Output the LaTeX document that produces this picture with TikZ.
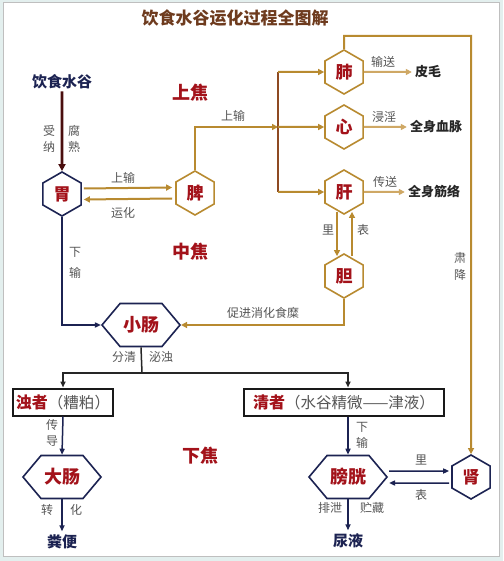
\documentclass[tikz,border=0pt]{standalone}
\usepackage{fontspec}
\setmainfont{Noto Sans CJK SC}
\usetikzlibrary{shapes.geometric,shapes.symbols,arrows.meta,calc}
\definecolor{gold}{HTML}{B88A30}
\definecolor{lgold}{HTML}{CFA865}
\definecolor{dgold}{HTML}{8E4A22}
\definecolor{navy}{HTML}{1C2352}
\definecolor{orgred}{HTML}{A3121A}
\definecolor{maroon}{HTML}{4A0E0E}
\definecolor{titlec}{HTML}{6E3B1E}
\definecolor{lbl}{HTML}{555555}
\definecolor{bgc}{HTML}{E3EFEE}
\begin{document}
\begin{tikzpicture}[x=1pt,y=-1pt,
  hexg/.style={regular polygon,regular polygon sides=6,shape border rotate=90,minimum size=44pt,inner sep=0pt,line width=1.6pt,draw=gold,fill=white,text=orgred,font=\fontsize{17}{17}\selectfont\bfseries},
  hexn/.style={hexg,draw=navy},
  hexw/.style={signal,signal to=west and east,signal pointer angle=100,minimum width=78pt,minimum height=43pt,inner sep=0pt,line width=1.6pt,draw=navy,fill=white,text=orgred,font=\fontsize{18}{18}\selectfont\bfseries},
  lab/.style={text=lbl,font=\fontsize{12}{12}\selectfont,inner sep=0pt},
  zone/.style={text=orgred,font=\fontsize{18}{18}\selectfont\bfseries},
  tgt/.style={text=black!85,font=\fontsize{13}{13}\selectfont\bfseries,inner sep=3pt},
  navyt/.style={text=navy,font=\fontsize{15}{15}\selectfont\bfseries},
  box/.style={draw=black!90,line width=2pt,fill=white,minimum height=27pt,inner sep=2pt},
  ga/.style={draw=gold,line width=2pt,-{Triangle[length=6pt,width=6pt]}},
  gl/.style={draw=gold,line width=2pt},
  la/.style={draw=lgold,line width=2pt,-{Triangle[length=6pt,width=6pt]}},
  na/.style={draw=navy,line width=1.5pt,-{Triangle[length=6pt,width=5pt]}},
  nl/.style={draw=navy,line width=1.5pt}]
\useasboundingbox (0,0) rectangle (503,561);
\fill[bgc] (0,0) rectangle (503,561);
\filldraw[fill=white,draw=black!25,line width=1pt] (3,3) rectangle (499,556);

\node[text=titlec,font=\fontsize{17}{17}\selectfont\bfseries] (title) at (235,18) {饮食水谷运化过程全图解};
\node[zone] (sj) at (190,93) {上焦};
\node[zone] (zj) at (190,252) {中焦};
\node[zone] (xj) at (200,456) {下焦};

\node[navyt,inner sep=2pt] (ys) at (62,82) {饮食水谷};
\node[hexn] (wei) at (62,194) {胃};
\node[hexg] (pi) at (195,193) {脾};
\node[hexg] (fei) at (344,72) {肺};
\node[hexg] (xin) at (344,127) {心};
\node[hexg] (gan) at (344,192) {肝};
\node[hexg] (dan) at (344,276) {胆};
\node[hexw] (xc) at (141,325) {小肠};
\node[box,minimum width=100pt] (zhuo) at (63,402) {\textcolor{orgred}{\fontsize{16}{16}\selectfont\bfseries 浊者}\textcolor{lbl}{\fontsize{15.5}{15.5}\selectfont （糟粕）}};
\node[box,minimum width=200pt] (qing) at (344,402) {\textcolor{orgred}{\fontsize{16}{16}\selectfont\bfseries 清者}\textcolor{lbl}{\fontsize{15.5}{15.5}\selectfont （水谷精微——津液）}};
\node[hexw] (dc) at (62,477) {大肠};
\node[hexw] (pg) at (348,477) {膀胱};
\node[hexn] (shen) at (471,477) {肾};
\node[navyt] (fb) at (62,542) {粪便};
\node[navyt] (ny) at (348,541) {尿液};
\node[tgt] (pm) at (428,72) {皮毛};
\node[tgt] (xm) at (436,127) {全身血脉};
\node[tgt] (jl) at (434,192) {全身筋络};

% top input
\draw[draw=maroon,line width=2.6pt,-{Triangle[length=7pt,width=7pt]}] (ys.south) -- (wei.north);
\node[lab] at (49,131) {受};
\node[lab] at (49,147) {纳};
\node[lab] at (74,131) {腐};
\node[lab] at (74,147) {熟};

% wei <-> pi
\draw[ga] ($(wei.east)+(2,-5.5)$) -- ($(pi.west)+(-3,-5.5)$);
\draw[ga] ($(pi.west)+(-3,5.5)$) -- ($(wei.east)+(2,5.5)$);
\node[lab] at (123,178) {上输};
\node[lab] at (123,213) {运化};

% pi up to the three organs
\coordinate (vtop) at (278,72);
\coordinate (vmid) at (278,127);
\coordinate (vbot) at (278,192);
\draw[gl,draw=dgold] (vtop) -- (vbot);
\draw[ga] (pi.north) |- (vmid);
\node[lab] at (233,116) {上输};
\draw[ga] (vtop) -- (fei.west);
\draw[ga] (vmid) -- (xin.west);
\draw[ga] (vbot) -- (gan.west);

\draw[la] (fei.east) -- (pm.west);
\draw[la] (xin.east) -- (xm.west);
\draw[la] (gan.east) -- (jl.west);
\node[lab] at (383,62) {输送};
\node[lab] at (384,117) {浸淫};
\node[lab] at (385,182) {传送};

% gan <-> dan
\draw[ga] ($(gan.south)+(-7,-3)$) -- ($(dan.north)+(-7,3)$);
\draw[ga] ($(dan.north)+(8,3)$) -- ($(gan.south)+(8,-3)$);
\node[lab] at (328,230) {里};
\node[lab] at (363,230) {表};

% fei to shen
\coordinate (fr) at (471,36);
\draw[ga] (fei.north) |- (fr) -- (shen.north);
\node[lab] at (460,258) {肃};
\node[lab] at (460,275) {降};

% dan to xiaochang
\draw[ga] (dan.south) |- (xc.east);
\node[lab] at (263,313) {促进消化食糜};

% wei to xiaochang
\draw[na] (wei.south) |- (xc.west);
\node[lab] at (75,252) {下};
\node[lab] at (75,273) {输};

% split
\coordinate (split) at (142,373);
\draw[nl,draw=black!85] (xc.south) -- (split);
\draw[na,draw=black!85] (split) -| (zhuo.north);
\draw[na,draw=black!85] (split) -| (qing.north -| pg.center);
\node[lab] at (124,357) {分清};
\node[lab] at (161,357) {泌浊};

% lower
\draw[na] (zhuo.south) -- (dc.north);
\node[lab] at (52,425) {传};
\node[lab] at (52,441) {导};
\draw[na] (dc.south) -- (fb.north);
\node[lab] at (47,510) {转};
\node[lab] at (76,510) {化};

\draw[na] (qing.south -| pg.center) -- (pg.north);
\node[lab] at (362,427) {下};
\node[lab] at (362,443) {输};
\draw[na] ($(pg.east)+(1,-6)$) -- ($(shen.west)+(-2,-6)$);
\draw[na] ($(shen.west)+(-2,6)$) -- ($(pg.east)+(1,6)$);
\node[lab] at (421,460) {里};
\node[lab] at (421,495) {表};
\draw[na] (pg.south) -- (ny.north);
\node[lab] at (330,508) {排泄};
\node[lab] at (372,508) {贮藏};
\end{tikzpicture}
\end{document}
